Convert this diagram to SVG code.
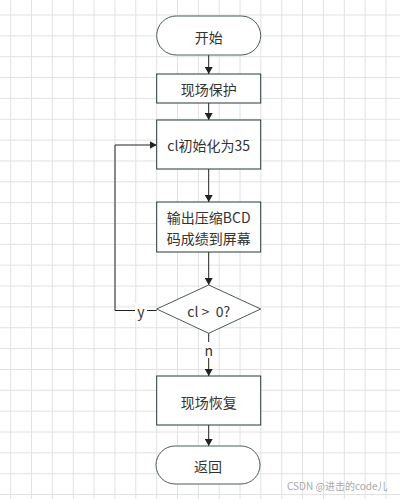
<svg xmlns="http://www.w3.org/2000/svg" width="400" height="499" viewBox="0 0 400 499">
<style>
.grid{stroke:#e2e2e2;stroke-width:1;fill:none}
.box{fill:#fff;stroke:#253838;stroke-width:1}
.term{fill:#fff;stroke:#4a5a5a;stroke-width:1}
.t{font-family:"Noto Sans CJK SC","Liberation Sans",sans-serif;font-size:14px;fill:#333;text-anchor:middle;dominant-baseline:central}
.conn{stroke:#222;stroke-width:1;fill:none}
.wm{font-family:"Noto Sans CJK SC","Liberation Sans",sans-serif;font-size:10px;fill:#a8a8a8;dominant-baseline:central}
</style>
<defs>
<marker id="ah" markerUnits="userSpaceOnUse" markerWidth="8" markerHeight="8" refX="7" refY="4" orient="auto">
<path d="M0,0 L7,4 L0,8 Z" fill="#222"/>
</marker>
</defs>
<rect width="400" height="499" fill="#fff"/>
<path class="grid" d="M10.7,0V499M31.55,0V499M52.4,0V499M73.25,0V499M94.1,0V499M114.95,0V499M135.8,0V499M156.65,0V499M177.5,0V499M198.35,0V499M219.2,0V499M240.05,0V499M260.9,0V499M281.75,0V499M302.6,0V499M323.45,0V499M344.3,0V499M365.15,0V499M386,0V499
M0,15H400M0,35.85H400M0,56.7H400M0,77.55H400M0,98.4H400M0,119.25H400M0,140.1H400M0,160.95H400M0,181.8H400M0,202.65H400M0,223.5H400M0,244.35H400M0,265.2H400M0,286.05H400M0,306.9H400M0,327.75H400M0,348.6H400M0,369.45H400M0,390.3H400M0,411.15H400M0,432H400M0,452.85H400M0,473.7H400M0,494.55H400"/>
<g id="connectors">
<line class="conn" x1="208.7" y1="55" x2="208.7" y2="74" marker-end="url(#ah)"/>
<line class="conn" x1="208.7" y1="103" x2="208.7" y2="120" marker-end="url(#ah)"/>
<line class="conn" x1="208.7" y1="169" x2="208.7" y2="202" marker-end="url(#ah)"/>
<line class="conn" x1="208.7" y1="252" x2="208.7" y2="285" marker-end="url(#ah)"/>
<line class="conn" x1="208.7" y1="333" x2="208.7" y2="376" marker-end="url(#ah)"/>
<line class="conn" x1="208.7" y1="425" x2="208.7" y2="446" marker-end="url(#ah)"/>
<path class="conn" d="M156.7,310.5 H115 V145 H156.7" marker-end="url(#ah)"/>
<rect x="135" y="303" width="12" height="16" fill="#fff"/>
<text class="t" x="141" y="310.5">y</text>
<rect x="202.5" y="342" width="12" height="16" fill="#fff"/>
<text class="t" x="208.7" y="350">n</text>
</g>
<g id="start">
<rect class="term" x="156.7" y="16" width="104" height="39" rx="19.5"/>
<text class="t" x="208.7" y="37">开始</text>
</g>
<g id="save">
<rect class="box" x="156.7" y="74" width="104" height="29"/>
<text class="t" x="208.7" y="89">现场保护</text>
</g>
<g id="init">
<rect class="box" x="156.7" y="120" width="104" height="49"/>
<text class="t" x="208.7" y="145">cl初始化为35</text>
</g>
<g id="output">
<rect class="box" x="156.7" y="202" width="104" height="50"/>
<text class="t" x="208.7" y="217">输出压缩BCD</text>
<text class="t" x="208.7" y="237.5">码成绩到屏幕</text>
</g>
<g id="decision">
<path class="term" d="M208.7,285 L260.7,309 L208.7,333.3 L156.7,309 Z"/>
<text class="t" x="208.7" y="311" xml:space="preserve">cl &gt;  0?</text>
</g>
<g id="restore">
<rect class="box" x="156.7" y="376" width="104" height="49"/>
<text class="t" x="208.7" y="402">现场恢复</text>
</g>
<g id="end">
<rect class="term" x="156" y="446" width="104" height="38" rx="19"/>
<text class="t" x="208" y="465.5">返回</text>
</g>
<text class="wm" x="287" y="485">CSDN @进击的code儿</text>
</svg>
